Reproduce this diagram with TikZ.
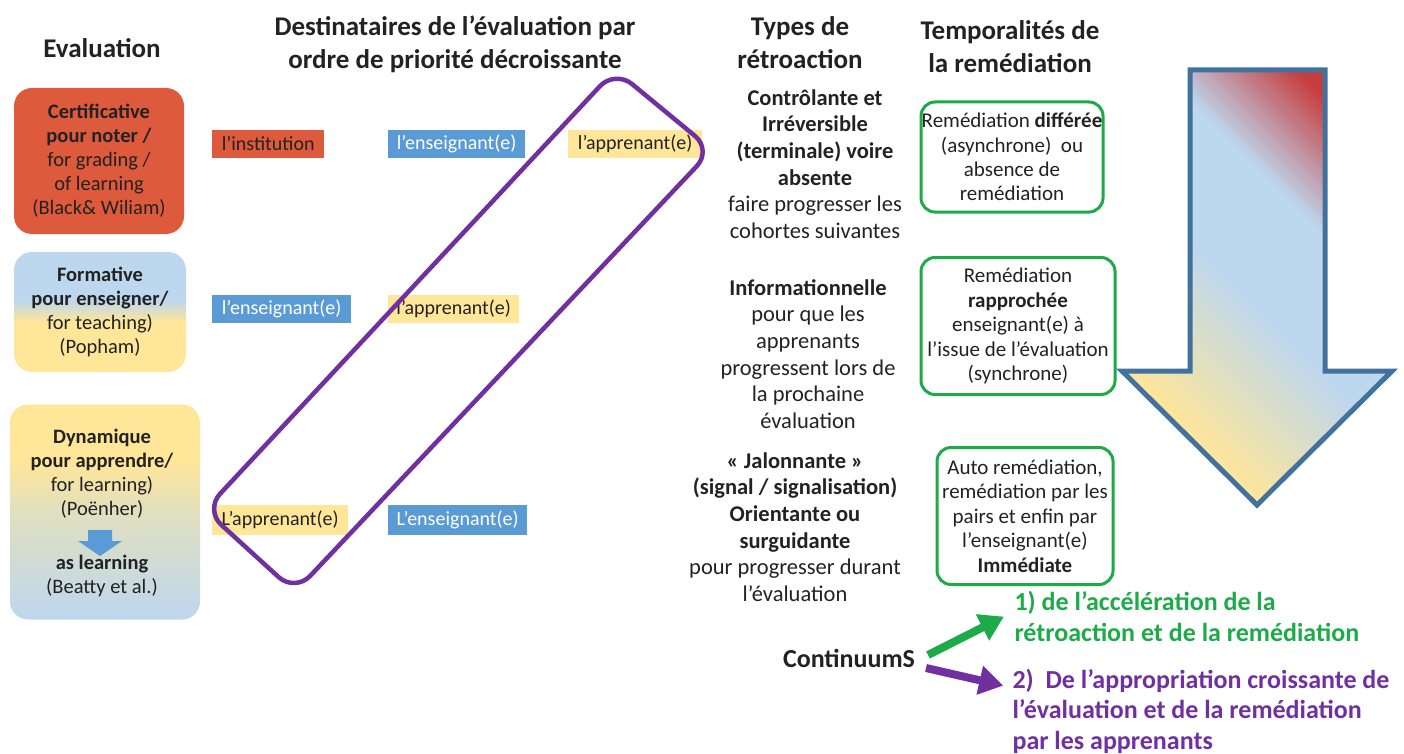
\documentclass[tikz,border=0pt]{standalone}
\usepackage{fontspec}
\setmainfont{Carlito}
\usetikzlibrary{arrows.meta}
\definecolor{evalred}{HTML}{DE5A3C}
\definecolor{evalblue}{HTML}{5B9BD5}
\definecolor{evalyellow}{HTML}{FFE699}
\definecolor{paleblue}{HTML}{BDD7EE}
\definecolor{remgreen}{HTML}{1DAB4A}
\definecolor{contpurple}{HTML}{7030A0}
\definecolor{arrowblue}{HTML}{41719C}
\definecolor{arrowred}{HTML}{C63D3F}
\definecolor{textgrey}{HTML}{222222}
\pgfdeclareverticalshading{formshade}{100bp}{color(0bp)=(evalyellow); color(46bp)=(evalyellow); color(55bp)=(paleblue); color(100bp)=(paleblue)}
\pgfdeclareverticalshading{dynshade}{100bp}{color(0bp)=(paleblue); color(25bp)=(paleblue); color(50bp)=(evalyellow!55!paleblue); color(62bp)=(evalyellow); color(100bp)=(evalyellow)}
\pgfdeclarehorizontalshading{arrowshade}{100bp}{color(0bp)=(evalyellow); color(28bp)=(evalyellow); color(48bp)=(paleblue); color(62bp)=(paleblue); color(76bp)=(arrowred); color(100bp)=(arrowred)}
\tikzstyle{heading}=[font=\fontsize{27}{33}\selectfont\bfseries, align=center, text=textgrey]
\tikzstyle{eval box}=[rounded corners=18, align=center, inner sep=0, text=textgrey, font=\fontsize{20.5}{24}\selectfont]
\tikzstyle{dest label}=[anchor=west, minimum height=28, inner sep=0, font=\fontsize{20}{22}\selectfont]
\tikzstyle{feedback}=[align=center, text=textgrey, font=\fontsize{22.5}{26.7}\selectfont]
\tikzstyle{remed box}=[draw=remgreen, line width=3, rounded corners=14, align=center, inner sep=0, text=textgrey, font=\fontsize{21}{24.4}\selectfont]
\tikzstyle{cont arrow}=[line width=8, -{Triangle[length=24pt, width=28pt]}]

\begin{document}
\begin{tikzpicture}[x=1pt, y=-1pt]
  \useasboundingbox (0,0) rectangle (1404,754);

  \node[heading] (h_eval) at (102,48) {Evaluation};
  \node[heading] (h_dest) at (455,44) {Destinataires de l’évaluation par\\ordre de priorité décroissante};
  \node[heading] (h_types) at (800,43) {Types de\\rétroaction};
  \node[heading] (h_temp) at (1010,47) {Temporalités de\\la remédiation};

  \node[eval box, fill=evalred, minimum width=170, minimum height=146] (certif) at (99,161)
    {\textbf{Certificative}\\\textbf{pour noter /}\\for grading /\\of learning\\(Black\& Wiliam)};
  \node[eval box, shading=formshade, minimum width=172, minimum height=120] (format) at (100,312)
    {\textbf{Formative}\\\textbf{pour enseigner/}\\for teaching)\\(Popham)};
  \node[eval box, shading=dynshade, minimum width=190, minimum height=215] (dynam) at (105,512) {};
  \node[eval box] (dynam_top) at (102,474)
    {\textbf{Dynamique}\\\textbf{pour apprendre/}\\for learning)\\(Poënher)};
  \node[eval box] (dynam_bot) at (102,576) {\textbf{as learning}\\(Beatty et al.)};
  \fill[evalblue] (88,530) -- (112,530) -- (112,541) -- (122,541) -- (100,556) -- (78,541) -- (88,541) -- cycle;

  \node[dest label, fill=evalred, text=textgrey, minimum width=112] (inst_1) at (212,144) {l’institution};
  \node[dest label, fill=evalblue, text=white, minimum width=137] (ens_1) at (388,144) {l’enseignant(e)};
  \node[dest label, fill=evalyellow, text=textgrey, minimum width=134] (app_1) at (568,144) {l’apprenant(e)};
  \node[dest label, fill=evalblue, text=white, minimum width=139] (ens_2) at (212,309) {l’enseignant(e)};
  \node[dest label, fill=evalyellow, text=textgrey, minimum width=131] (app_2) at (388,309) {l’apprenant(e)};
  \node[dest label, fill=evalyellow, text=textgrey, minimum width=136, minimum height=30] (app_3) at (212,520) {L’apprenant(e)};
  \node[dest label, fill=evalblue, text=white, minimum width=139, minimum height=30] (ens_3) at (388,520) {L’enseignant(e)};

  \draw[contpurple, line width=4.5, rounded corners=22] (615,70) -- (712,150) -- (295,592) -- (205,510) -- cycle;

  \node[feedback] (fb_ctrl) at (815,164)
    {\textbf{Contrôlante et}\\\textbf{Irréversible}\\\textbf{(terminale) voire}\\\textbf{absente}\\faire progresser les\\cohortes suivantes};
  \node[feedback] (fb_info) at (808,354)
    {\textbf{Informationnelle}\\pour que les\\apprenants\\progressent lors de\\la prochaine\\évaluation};
  \node[feedback] (fb_jal) at (795,527)
    {\textbf{« Jalonnante »}\\\textbf{(signal / signalisation)}\\\textbf{Orientante ou}\\\textbf{surguidante}\\pour progresser durant\\l’évaluation};

  \node[remed box, minimum width=182, minimum height=110] (rem_diff) at (1012,157)
    {Remédiation \textbf{différée}\\(asynchrone)~ ou\\absence de\\remédiation};
  \node[remed box, minimum width=194, minimum height=137] (rem_rapp) at (1018,326)
    {Remédiation\\\textbf{rapprochée}\\enseignant(e) à\\l’issue de l’évaluation\\(synchrone)};
  \node[remed box, minimum width=176, minimum height=137] (rem_imm) at (1025,516)
    {Auto remédiation,\\remédiation par les\\pairs et enfin par\\l’enseignant(e)\\\textbf{Immédiate}};

  \shade[shading=arrowshade, shading angle=45] (1190,70) -- (1325,70) -- (1325,371) -- (1392,371)
    -- (1257,505) -- (1122,371) -- (1190,371) -- cycle;
  \draw[arrowblue, line width=5, line join=miter] (1190,70) -- (1325,70) -- (1325,371) -- (1392,371)
    -- (1257,505) -- (1122,371) -- (1190,371) -- cycle;

  \node[font=\fontsize{26}{30}\selectfont\bfseries, text=textgrey] (cont) at (849,658) {ContinuumS};
  \node[anchor=west, align=left, text=remgreen, font=\fontsize{26}{31}\selectfont\bfseries] (accel) at (1011,616)
    {1) de l’accélération de la\\rétroaction et de la remédiation};
  \node[anchor=west, align=left, text=contpurple, font=\fontsize{26}{30.5}\selectfont\bfseries] (approp) at (1009,711)
    {2)~ De l’appropriation croissante de\\l’évaluation et de la remédiation\\par les apprenants};
  \coordinate (green_tail) at (928,655);
  \coordinate (purple_tail) at (926,668);
  \draw[cont arrow, remgreen, shorten >=8] (green_tail) -- ([yshift=3pt]accel.west);
  \draw[cont arrow, contpurple, shorten >=6] (purple_tail) -- ([yshift=24pt]approp.west);
\end{tikzpicture}
\end{document}
